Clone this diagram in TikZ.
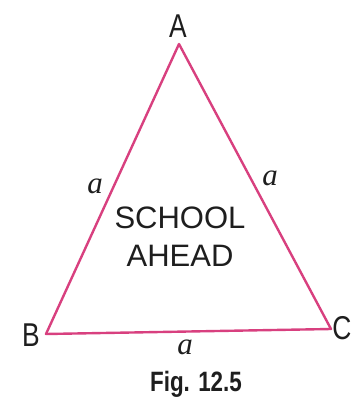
\documentclass[tikz,border=0pt]{standalone}
\usepackage{fontspec}
\setmainfont{Liberation Sans}
\newfontfamily\sidefont{Liberation Serif}
\newfontfamily\capfont[FakeStretch=0.8]{Liberation Sans}
\usetikzlibrary{positioning}
\definecolor{signpink}{HTML}{D8407F}
\definecolor{ink}{HTML}{1E1E1E}
\tikzset{
  vertexlabel/.style={
    text=ink, inner sep=0pt,
    font=\capfont\fontsize{33}{36}\selectfont
  },
  sidelabel/.style={
    text=ink, inner sep=0pt,
    font=\sidefont\itshape\fontsize{31}{36}\selectfont
  },
  signtext/.style={
    text=ink, inner sep=0pt, align=center,
    font=\fontsize{31}{38}\selectfont
  },
  caption/.style={
    text=ink, inner sep=0pt,
    font=\capfont\bfseries\fontsize{28}{32}\selectfont
  },
  triside/.style={
    draw=signpink, line width=2.4pt, line join=round
  },
}
\begin{document}
\begin{tikzpicture}[x=1pt,y=-1pt]
\useasboundingbox (0,0) rectangle (353,408);
\coordinate (tA) at (179,44);
\coordinate (tB) at (46,334);
\coordinate (tC) at (331,329);
\node[vertexlabel] (labA) at (178,26) {A};
\node[vertexlabel] (labB) at (31,335) {B};
\node[vertexlabel] (labC) at (342,328) {C};
\node[sidelabel] (sideAB) at (95,186) {a};
\node[sidelabel] (sideAC) at (270,178) {a};
\node[sidelabel] (sideBC) at (185,347) {a};
\node[signtext] (sign) at (180,237) {SCHOOL\\AHEAD};
\node[caption] (fig) at (196,384) {Fig. 12.5};
\draw[triside] (tA) -- (tB) -- (tC) -- cycle;
\end{tikzpicture}
\end{document}
